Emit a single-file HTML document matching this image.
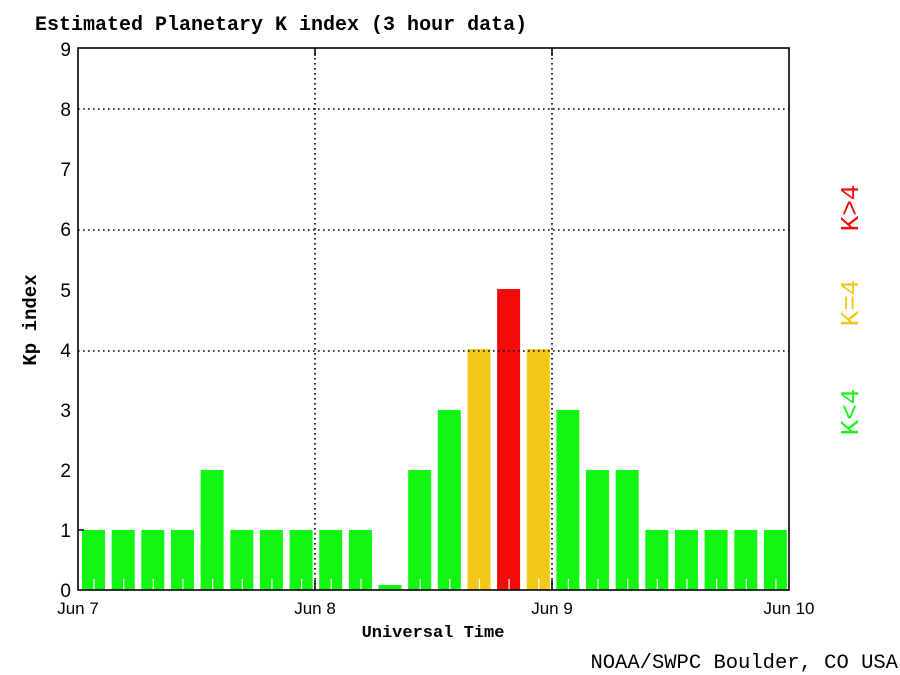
<!DOCTYPE html>
<html><head><style>
html,body{margin:0;padding:0;background:#fff;width:900px;height:675px;overflow:hidden}
</style></head><body>
<svg width="900" height="675" xmlns="http://www.w3.org/2000/svg">
<text x="35" y="30" font-family="Liberation Mono, monospace" font-weight="bold" font-size="20" fill="#000">Estimated Planetary K index (3 hour data)</text>
<g fill="#11f711">
<rect x="82" y="530" width="23" height="60"/>
<rect x="111.7" y="530" width="23" height="60"/>
<rect x="141.3" y="530" width="23" height="60"/>
<rect x="171" y="530" width="23" height="60"/>
<rect x="200.6" y="470" width="23" height="120"/>
<rect x="230.3" y="530" width="23" height="60"/>
<rect x="259.9" y="530" width="23" height="60"/>
<rect x="289.6" y="530" width="23" height="60"/>
<rect x="319.2" y="530" width="23" height="60"/>
<rect x="348.9" y="530" width="23" height="60"/>
<rect x="378.5" y="585" width="23" height="5"/>
<rect x="408.2" y="470" width="23" height="120"/>
<rect x="437.8" y="410" width="23" height="180"/>
<rect x="556.4" y="410" width="23" height="180"/>
<rect x="586" y="470" width="23" height="120"/>
<rect x="615.7" y="470" width="23" height="120"/>
<rect x="645.3" y="530" width="23" height="60"/>
<rect x="675" y="530" width="23" height="60"/>
<rect x="704.6" y="530" width="23" height="60"/>
<rect x="734.3" y="530" width="23" height="60"/>
<rect x="763.9" y="530" width="23" height="60"/>
</g>
<rect x="467.5" y="349" width="23" height="241" fill="#f2c818"/>
<rect x="526.8" y="349" width="23" height="241" fill="#f2c818"/>
<rect x="497.1" y="289" width="23" height="301" fill="#f50b0b"/>
<g stroke="#fff" stroke-width="1.2">
<line x1="94" y1="579" x2="94" y2="590"/><line x1="123.7" y1="579" x2="123.7" y2="590"/><line x1="153.3" y1="579" x2="153.3" y2="590"/><line x1="183" y1="579" x2="183" y2="590"/><line x1="212.6" y1="579" x2="212.6" y2="590"/><line x1="242.3" y1="579" x2="242.3" y2="590"/><line x1="271.9" y1="579" x2="271.9" y2="590"/><line x1="301.6" y1="579" x2="301.6" y2="590"/><line x1="331.2" y1="579" x2="331.2" y2="590"/><line x1="360.9" y1="579" x2="360.9" y2="590"/><line x1="420.2" y1="579" x2="420.2" y2="590"/><line x1="449.8" y1="579" x2="449.8" y2="590"/><line x1="479.5" y1="579" x2="479.5" y2="590"/><line x1="509.1" y1="579" x2="509.1" y2="590"/><line x1="538.8" y1="579" x2="538.8" y2="590"/><line x1="568.4" y1="579" x2="568.4" y2="590"/><line x1="598" y1="579" x2="598" y2="590"/><line x1="627.7" y1="579" x2="627.7" y2="590"/><line x1="657.3" y1="579" x2="657.3" y2="590"/><line x1="687" y1="579" x2="687" y2="590"/><line x1="716.6" y1="579" x2="716.6" y2="590"/><line x1="746.3" y1="579" x2="746.3" y2="590"/><line x1="775.9" y1="579" x2="775.9" y2="590"/>
</g>
<g stroke="#000" stroke-width="1.6" stroke-dasharray="1.6,3.4">
<line x1="78" y1="109" x2="789" y2="109"/><line x1="78" y1="230" x2="789" y2="230"/><line x1="78" y1="351" x2="789" y2="351"/>
<line x1="315" y1="48" x2="315" y2="590"/><line x1="552" y1="48" x2="552" y2="590"/>
</g>
<rect x="78" y="48" width="711" height="542" fill="none" stroke="#000" stroke-width="1.6"/>
<g stroke="#000" stroke-width="1.5">
<line x1="315" y1="48" x2="315" y2="56"/><line x1="552" y1="48" x2="552" y2="56"/>
<line x1="315" y1="580" x2="315" y2="590"/><line x1="552" y1="580" x2="552" y2="590"/>
<line x1="78" y1="530" x2="84" y2="530"/>
</g>
<g font-family="Liberation Sans, sans-serif" font-size="19" fill="#000" text-anchor="end">
<text x="71" y="597">0</text><text x="71" y="537">1</text><text x="71" y="477">2</text><text x="71" y="417">3</text><text x="71" y="357">4</text><text x="71" y="297">5</text><text x="71" y="236">6</text><text x="71" y="176">7</text><text x="71" y="116">8</text><text x="71" y="56">9</text>
</g>
<g font-family="Liberation Sans, sans-serif" font-size="17" fill="#000" text-anchor="middle">
<text x="78" y="614">Jun 7</text><text x="315" y="614">Jun 8</text><text x="552" y="614">Jun 9</text><text x="789" y="614">Jun 10</text>
</g>
<text x="433" y="637" font-family="Liberation Mono, monospace" font-weight="bold" font-size="17" text-anchor="middle">Universal Time</text>
<text transform="translate(36,320) rotate(-90)" font-family="Liberation Mono, monospace" font-weight="bold" font-size="19" text-anchor="middle">Kp index</text>
<g font-family="Liberation Mono, monospace" font-size="26" text-anchor="middle">
<text transform="translate(858,208) rotate(-90)" fill="#f50b0b">K&gt;4</text>
<text transform="translate(858,303) rotate(-90)" fill="#f2c818">K=4</text>
<text transform="translate(858,412) rotate(-90)" fill="#11f711">K&lt;4</text>
</g>
<text x="898" y="668" font-family="Liberation Mono, monospace" font-size="20.5" text-anchor="end">NOAA/SWPC Boulder, CO USA</text>
</svg>
</body></html>
